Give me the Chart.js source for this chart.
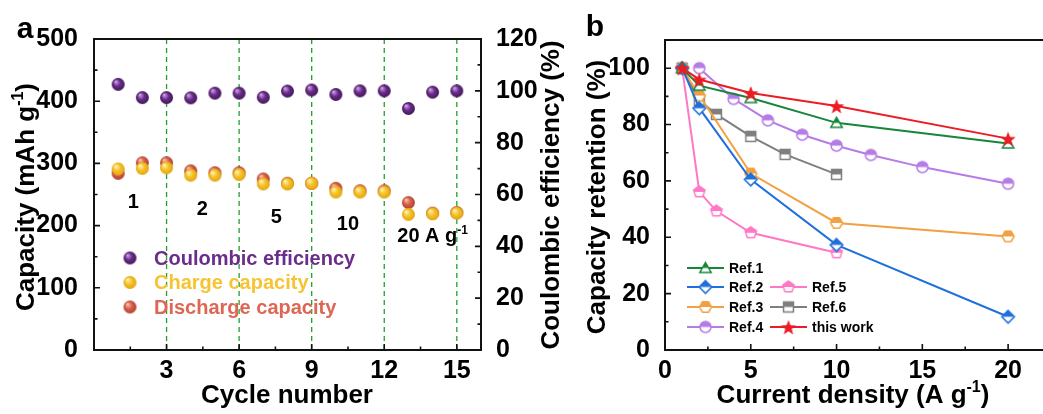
<!DOCTYPE html>
<html>
<head>
<meta charset="utf-8">
<script src="https://cdn.jsdelivr.net/npm/chart.js@4.4.1/dist/chart.umd.min.js"></script>
<style>
  html, body { margin: 0; padding: 0; background: #fff; overflow: hidden; }
  #wrap { position: relative; width: 1043px; height: 414px; overflow: hidden; }
  #chartA { position: absolute; left: 0; top: 0; }
  #chartB { position: absolute; left: 580px; top: 0; }
</style>
</head>
<body>
<div id="wrap">
  <canvas id="chartA" width="580" height="414"></canvas>
  <canvas id="chartB" width="480" height="414"></canvas>
</div>
<script>
// ---- panel a: rate test ----
const cycles = [1, 2, 3, 4, 5, 6, 7, 8, 9, 10, 11, 12, 13, 14, 15];
const coulombic = [102.5, 97.4, 97.4, 97.3, 99.1, 99.1, 97.5, 99.9, 100.3, 98.6, 100, 100, 93.2, 99.5, 100];
const chargeCap = [291, 292, 293, 281, 281, 282, 267, 267, 268, 254, 254, 254, 218, 219, 220];
const dischargeCap = [284, 301, 301, 288, 285, 285, 275, 268, 268, 260, 256, 256, 237, 220, 221];
const cycleTicks = [3, 6, 9, 12, 15];
const capTicks = [0, 100, 200, 300, 400, 500];
const ceTicks = [0, 20, 40, 60, 80, 100, 120];
const rateLabels = [
  { x: 1.63, y: 237, text: '1' },
  { x: 4.48, y: 226, text: '2' },
  { x: 7.54, y: 213, text: '5' },
  { x: 10.5, y: 202, text: '10' },
  { x: 14.0, y: 182, text: '20 A g', sup: '-1' }
];

// ---- panel b: retention vs current density ----
const ref1X = [1, 2, 5, 10, 20];
const ref1Y = [100, 93.8, 89.4, 80.6, 73.3];
const ref2X = [1, 2, 5, 10, 20];
const ref2Y = [100, 85.8, 60.5, 37.3, 11.8];
const ref3X = [1, 2, 5, 10, 20];
const ref3Y = [100, 90.3, 62.6, 45.1, 40.3];
const ref4X = [2, 4, 6, 8, 10, 12, 15, 20];
const ref4Y = [100, 89.1, 81.5, 76.4, 72.5, 69.2, 64.9, 59.0];
const ref5X = [1, 2, 3, 5, 10];
const ref5Y = [100, 56.1, 49.3, 41.6, 34.5];
const ref6X = [1, 2, 3, 5, 7, 10];
const ref6Y = [100, 88.6, 83.6, 75.8, 69.4, 62.3];
const workX = [1, 2, 5, 10, 20];
const workY = [100, 96.0, 91.2, 86.6, 75.0];
const densityTicks = [0, 5, 10, 15, 20];
const retentionTicks = [0, 20, 40, 60, 80, 100];

const FONT = '"Liberation Sans", Arial, sans-serif';
const pts = (xs, ys) => xs.map((x, i) => ({ x: x, y: ys[i] }));

// shaded ball used for the rate-test points
function ball(base, light, dark, r) {
  const c = document.createElement('canvas');
  c.width = c.height = 2 * r + 2;
  const g = c.getContext('2d');
  const m = r + 1;
  const grad = g.createRadialGradient(m - r * 0.4, m - r * 0.45, r * 0.05, m, m, r);
  grad.addColorStop(0, light);
  grad.addColorStop(0.5, base);
  grad.addColorStop(1, dark);
  g.fillStyle = grad;
  g.beginPath();
  g.arc(m, m, r, 0, Math.PI * 2);
  g.fill();
  return c;
}

function shapePath(g, shape, m, r) {
  g.beginPath();
  if (shape === 'circle') {
    g.arc(m, m, r, 0, Math.PI * 2);
  } else if (shape === 'square') {
    g.rect(m - r * 0.9, m - r * 0.9, r * 1.8, r * 1.8);
  } else if (shape === 'diamond') {
    g.moveTo(m, m - r * 1.15); g.lineTo(m + r * 1.15, m); g.lineTo(m, m + r * 1.15); g.lineTo(m - r * 1.15, m);
  } else {
    const n = shape === 'triangle' ? 3 : shape === 'pentagon' ? 5 : 6;
    const rot = shape === 'hexagon' ? 0 : -Math.PI / 2;
    const rr = shape === 'triangle' ? r * 1.2 : r;
    const dy = shape === 'triangle' ? r * 0.2 : 0;
    for (let i = 0; i < n; i++) {
      const a = rot + i * 2 * Math.PI / n;
      const px = m + rr * Math.cos(a), py = m + dy + rr * Math.sin(a);
      if (i === 0) g.moveTo(px, py); else g.lineTo(px, py);
    }
  }
  g.closePath();
}

// top half filled, bottom half open
function halfMarker(shape, color, r) {
  const c = document.createElement('canvas');
  c.width = c.height = 2 * r + 6;
  const g = c.getContext('2d');
  const m = r + 3;
  shapePath(g, shape, m, r);
  g.fillStyle = '#fff';
  g.fill();
  g.save();
  g.beginPath();
  g.rect(0, 0, c.width, m);
  g.clip();
  shapePath(g, shape, m, r);
  g.fillStyle = color;
  g.fill();
  g.restore();
  shapePath(g, shape, m, r);
  g.strokeStyle = color;
  g.lineWidth = 1.5;
  g.stroke();
  return c;
}

function starMarker(color, r) {
  const c = document.createElement('canvas');
  c.width = c.height = 2 * r + 4;
  const g = c.getContext('2d');
  const m = r + 2;
  g.beginPath();
  for (let i = 0; i < 10; i++) {
    const a = -Math.PI / 2 + i * Math.PI / 5;
    const rr = i % 2 ? r * 0.42 : r;
    const px = m + rr * Math.cos(a), py = m + 1 + rr * Math.sin(a);
    if (i === 0) g.moveTo(px, py); else g.lineTo(px, py);
  }
  g.closePath();
  g.fillStyle = color;
  g.fill();
  return c;
}

// text with an optional superscript part, centred on (x, y)
function richText(ctx, parts, x, y, size, angle) {
  ctx.save();
  ctx.translate(x, y);
  ctx.rotate(angle || 0);
  ctx.fillStyle = '#000';
  ctx.textBaseline = 'middle';
  ctx.textAlign = 'left';
  let total = 0;
  parts.forEach(p => {
    ctx.font = 'bold ' + (p.sup ? Math.round(size * 0.6) : size) + 'px ' + FONT;
    p.w = ctx.measureText(p.t).width;
    total += p.w;
  });
  let cx = -total / 2;
  parts.forEach(p => {
    ctx.font = 'bold ' + (p.sup ? Math.round(size * 0.6) : size) + 'px ' + FONT;
    ctx.fillText(p.t, cx, p.sup ? -size * 0.33 : 0);
    cx += p.w;
  });
  ctx.restore();
}

function fixTicks(values) {
  return function (scale) { scale.ticks = values.map(v => ({ value: v })); };
}

// frame plus inward tick marks
function drawFrame(ctx, area, sides) {
  ctx.save();
  ctx.strokeStyle = '#111';
  ctx.lineWidth = 2;
  ctx.strokeRect(area.left, area.top, area.right - area.left, area.bottom - area.top);
  ctx.lineWidth = 1.6;
  ctx.beginPath();
  sides.forEach(s => {
    const sc = s.scale;
    s.values.forEach(v => {
      const len = s.minor ? 3.5 : 6;
      const p = sc.getPixelForValue(v);
      if (s.at === 'bottom') { ctx.moveTo(p, area.bottom); ctx.lineTo(p, area.bottom - len); }
      if (s.at === 'left') { ctx.moveTo(area.left, p); ctx.lineTo(area.left + len, p); }
      if (s.at === 'right') { ctx.moveTo(area.right, p); ctx.lineTo(area.right - len, p); }
    });
  });
  ctx.stroke();
  ctx.restore();
}

const tickFont = { family: FONT, size: 25, weight: 'bold' };

// ---------------- chart a ----------------
const ceBall = ball('#6b2d8c', '#d2a8e6', '#421658', 6.5);
const chargeBall = ball('#f6c22c', '#fff6c0', '#e3a50c', 6.5);
const dischargeBall = ball('#d9604c', '#f9c8b8', '#b0402e', 6.5);

const panelA = {
  id: 'panelA',
  beforeDatasetsDraw(chart) {
    const { ctx, chartArea: a, scales: { x } } = chart;
    ctx.save();
    ctx.strokeStyle = '#1fa22a';
    ctx.lineWidth = 1.3;
    ctx.setLineDash([5, 4]);
    cycleTicks.forEach(v => {
      const px = x.getPixelForValue(v);
      ctx.beginPath();
      ctx.moveTo(px, a.bottom);
      ctx.lineTo(px, a.top);
      ctx.stroke();
    });
    ctx.restore();
  },
  afterDraw(chart) {
    const { ctx, chartArea: a, scales: { x, y, y2 } } = chart;
    drawFrame(ctx, a, [
      { scale: x, at: 'bottom', values: cycleTicks },
      { scale: x, at: 'bottom', values: [1.5, 4.5, 7.5, 10.5, 13.5], minor: true },
      { scale: y, at: 'left', values: [100, 200, 300, 400] },
      { scale: y, at: 'left', values: [50, 150, 250, 350, 450], minor: true },
      { scale: y2, at: 'right', values: [20, 40, 60, 80, 100] },
      { scale: y2, at: 'right', values: [10, 30, 50, 70, 90, 110], minor: true }
    ]);

    rateLabels.forEach(l => {
      const parts = [{ t: l.text }];
      if (l.sup) parts.push({ t: l.sup, sup: true });
      richText(ctx, parts, x.getPixelForValue(l.x), y.getPixelForValue(l.y), 20, 0);
    });

    // legend inside the plot
    const items = [
      { img: ceBall, text: 'Coulombic efficiency', color: '#6b2d8c' },
      { img: chargeBall, text: 'Charge capacity', color: '#f6c433' },
      { img: dischargeBall, text: 'Discharge capacity', color: '#de6655' }
    ];
    ctx.save();
    ctx.font = 'bold 20px ' + FONT;
    ctx.textBaseline = 'middle';
    items.forEach((it, i) => {
      const cy = 258 + i * 24.5;
      ctx.drawImage(it.img, 130 - it.img.width / 2, cy - it.img.height / 2);
      ctx.fillStyle = it.color;
      ctx.fillText(it.text, 154, cy + 1);
    });
    ctx.restore();

    richText(ctx, [{ t: 'a' }], 25, 30, 30, 0);
    richText(ctx, [{ t: 'Capacity (mAh g' }, { t: '-1', sup: true }, { t: ')' }], 27, 197, 26, -Math.PI / 2);
    richText(ctx, [{ t: 'Coulombic efficiency (%)' }], 552, 195, 26, -Math.PI / 2);
    richText(ctx, [{ t: 'Cycle number' }], 287, 396, 26, 0);
  }
};

new Chart(document.getElementById('chartA'), {
  type: 'scatter',
  data: {
    datasets: [
      { label: 'Coulombic efficiency', data: pts(cycles, coulombic), yAxisID: 'y2', pointStyle: ceBall },
      { label: 'Charge capacity', data: pts(cycles, chargeCap), yAxisID: 'y', pointStyle: chargeBall },
      { label: 'Discharge capacity', data: pts(cycles, dischargeCap), yAxisID: 'y', pointStyle: dischargeBall }
    ]
  },
  options: {
    responsive: false,
    animation: false,
    devicePixelRatio: 1,
    layout: { padding: { top: 39, left: 0, right: 0, bottom: 0 } },
    plugins: { legend: { display: false }, tooltip: { enabled: false } },
    scales: {
      x: {
        type: 'linear', min: 0, max: 16,
        afterBuildTicks: fixTicks(cycleTicks),
        afterFit: s => { s.height = 64; },
        grid: { display: false }, border: { display: false },
        ticks: { font: tickFont, color: '#000', padding: -2, maxRotation: 0 }
      },
      y: {
        position: 'left', min: 0, max: 500,
        afterBuildTicks: fixTicks(capTicks),
        afterFit: s => { s.width = 94; },
        grid: { display: false }, border: { display: false },
        ticks: { font: tickFont, color: '#000', padding: 8 }
      },
      y2: {
        position: 'right', min: 0, max: 120,
        afterBuildTicks: fixTicks(ceTicks),
        afterFit: s => { s.width = 99; },
        grid: { display: false }, border: { display: false },
        ticks: { font: tickFont, color: '#000', padding: 7 }
      }
    }
  },
  plugins: [panelA]
});

// ---------------- chart b ----------------
const series = [
  { label: 'Ref.1', xs: ref1X, ys: ref1Y, color: '#17863a', img: halfMarker('triangle', '#17863a', 5.5) },
  { label: 'Ref.2', xs: ref2X, ys: ref2Y, color: '#1f6fdc', img: halfMarker('diamond', '#1f6fdc', 5.5) },
  { label: 'Ref.3', xs: ref3X, ys: ref3Y, color: '#f2a041', img: halfMarker('hexagon', '#f2a041', 6) },
  { label: 'Ref.4', xs: ref4X, ys: ref4Y, color: '#b67ce6', img: halfMarker('circle', '#b67ce6', 5.5) },
  { label: 'Ref.5', xs: ref5X, ys: ref5Y, color: '#ff78c6', img: halfMarker('pentagon', '#ff78c6', 6) },
  { label: 'Ref.6', xs: ref6X, ys: ref6Y, color: '#7f7f7f', img: halfMarker('square', '#7f7f7f', 5.5) },
  { label: 'this work', xs: workX, ys: workY, color: '#ec1c24', img: starMarker('#ec1c24', 8) }
];

const panelB = {
  id: 'panelB',
  afterDraw(chart) {
    const { ctx, chartArea: a, scales: { x, y } } = chart;
    drawFrame(ctx, a, [
      { scale: x, at: 'bottom', values: [5, 10, 15, 20] },
      { scale: x, at: 'bottom', values: [2.5, 7.5, 12.5, 17.5], minor: true },
      { scale: y, at: 'left', values: [20, 40, 60, 80, 100] },
      { scale: y, at: 'left', values: [10, 30, 50, 70, 90], minor: true }
    ]);

    // two-column legend
    const slots = [[107, 268], [107, 287], [107, 307], [107, 327], [190, 287], [190, 307], [190, 327]];
    ctx.save();
    ctx.font = 'bold 14px ' + FONT;
    ctx.textBaseline = 'middle';
    series.forEach((s, i) => {
      const [lx, ly] = slots[i];
      ctx.strokeStyle = s.color;
      ctx.lineWidth = 2;
      ctx.beginPath();
      ctx.moveTo(lx, ly);
      ctx.lineTo(lx + 37, ly);
      ctx.stroke();
      ctx.drawImage(s.img, lx + 18.5 - s.img.width / 2, ly - s.img.height / 2);
      ctx.fillStyle = '#000';
      ctx.fillText(s.label, lx + 42, ly + 1);
    });
    ctx.restore();

    richText(ctx, [{ t: 'b' }], 15, 28, 30, 0);
    richText(ctx, [{ t: 'Capacity retention (%)' }], 18, 197, 26, -Math.PI / 2);
    richText(ctx, [{ t: 'Current density (A g' }, { t: '-1', sup: true }, { t: ')' }], 273, 396, 26, 0);
  }
};

new Chart(document.getElementById('chartB'), {
  type: 'line',
  data: {
    datasets: series.map((s, i) => ({
      label: s.label,
      data: pts(s.xs, s.ys),
      borderColor: s.color,
      borderWidth: 2,
      pointStyle: s.img,
      order: s.label === 'this work' ? 0 : i + 1
    }))
  },
  options: {
    responsive: false,
    animation: false,
    devicePixelRatio: 1,
    layout: { padding: { top: 40, left: 0, right: 9, bottom: 0 } },
    plugins: { legend: { display: false }, tooltip: { enabled: false } },
    scales: {
      x: {
        type: 'linear', min: 0, max: 22.5,
        afterBuildTicks: fixTicks(densityTicks),
        afterFit: s => { s.height = 64; },
        grid: { display: false }, border: { display: false },
        ticks: { font: tickFont, color: '#000', padding: -2, maxRotation: 0 }
      },
      y: {
        min: 0, max: 110,
        afterBuildTicks: fixTicks(retentionTicks),
        afterFit: s => { s.width = 85; },
        grid: { display: false }, border: { display: false },
        ticks: { font: tickFont, color: '#000', padding: 7 }
      }
    }
  },
  plugins: [panelB]
});
</script>
</body>
</html>
